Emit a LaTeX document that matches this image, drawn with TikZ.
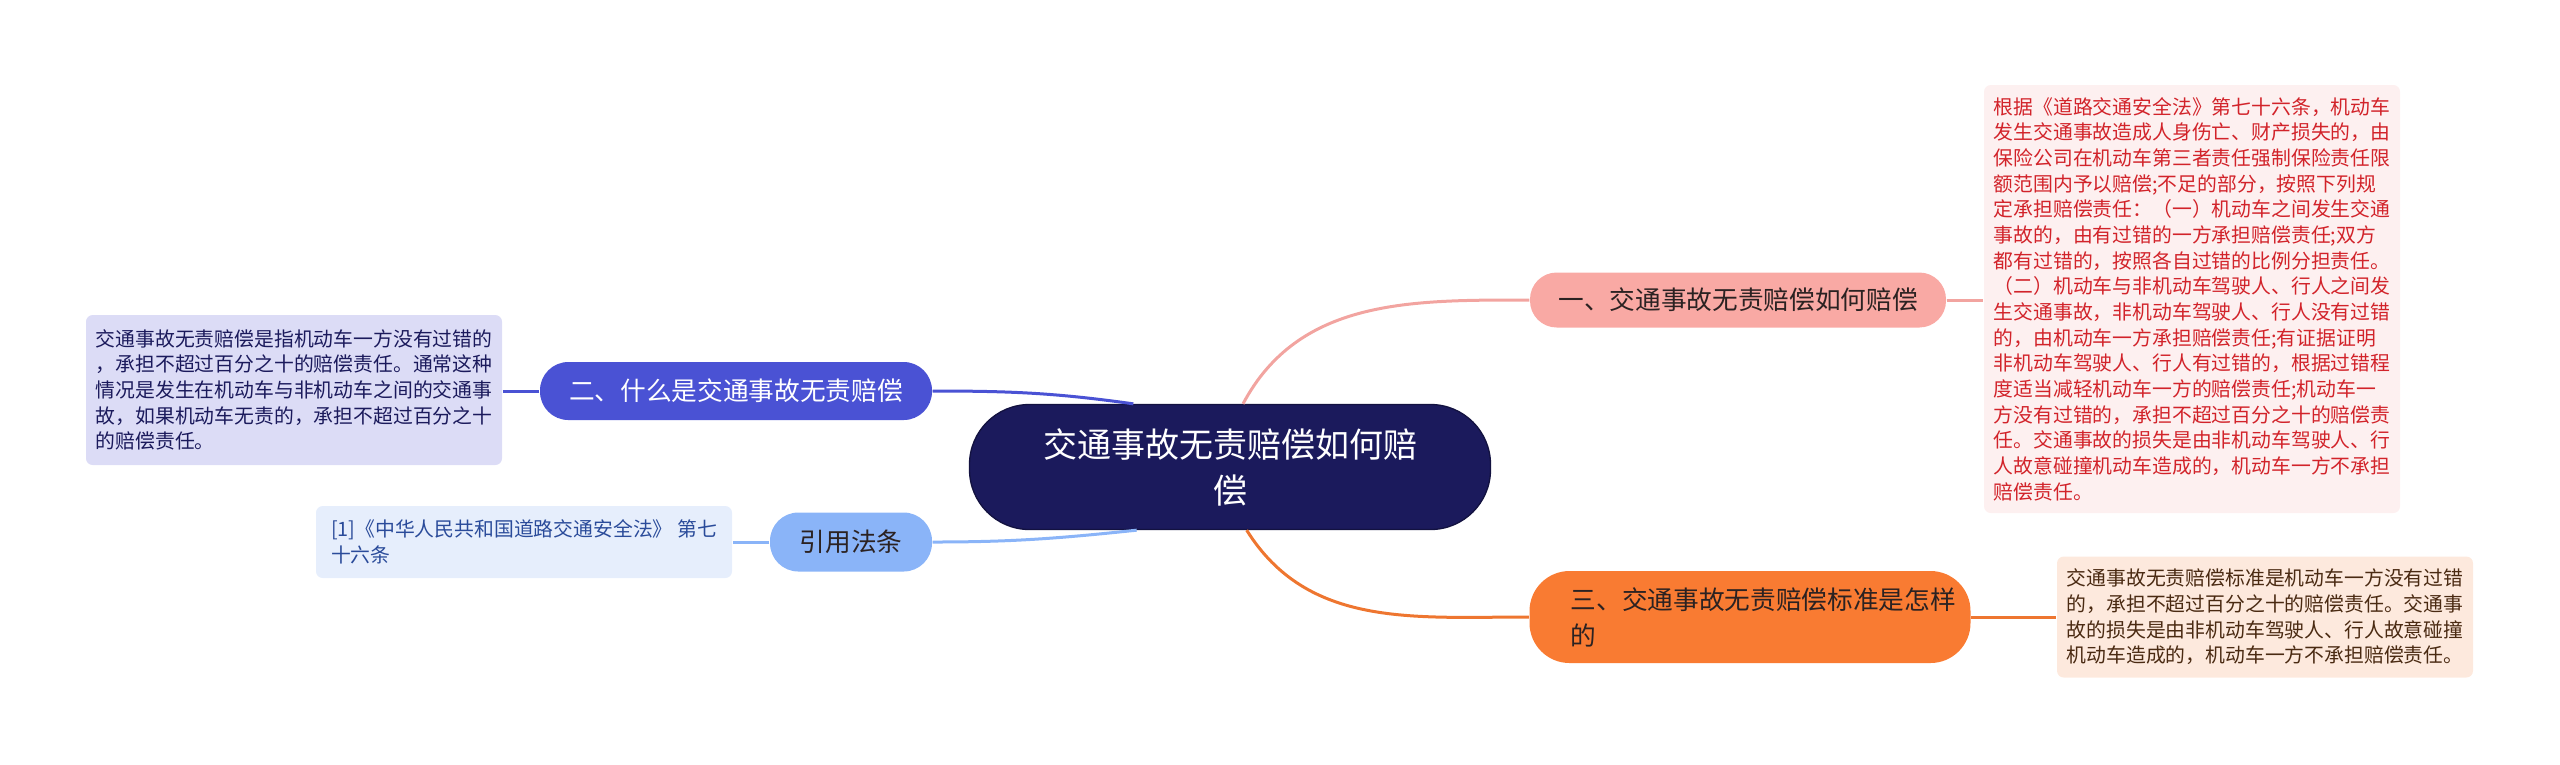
\documentclass[tikz,border=0pt]{standalone}
\usepackage{fontspec}
\setmainfont{Noto Sans CJK SC}
\usetikzlibrary{positioning,calc}
\usepackage{xcolor}

\definecolor{rootnavy}{HTML}{1B1A5C}
\definecolor{pinkmain}{HTML}{F9A9A4}
\definecolor{pinkline}{HTML}{F2A4A0}
\definecolor{bluemain}{HTML}{4A52D4}
\definecolor{skymain}{HTML}{8AB4F8}
\definecolor{orangemain}{HTML}{F97B32}
\definecolor{orangeline}{HTML}{EE7630}
\definecolor{redleaf}{HTML}{FDF0F0}
\definecolor{redtext}{HTML}{D2232A}
\definecolor{lilacleaf}{HTML}{DCDCF6}
\definecolor{skyleaf}{HTML}{E6EEFC}
\definecolor{skytext}{HTML}{2A4B9A}
\definecolor{peachleaf}{HTML}{FDE9DD}
\definecolor{browntext}{HTML}{4A2A12}
\definecolor{darktext}{HTML}{2B2222}

\begin{document}
\begin{tikzpicture}[x=0.3pt, y=-0.3pt,
  root/.style={fill=rootnavy, draw=rootnavy!70!black, text=white, rounded corners=18pt,
    minimum width=156.3pt, minimum height=37.5pt, inner sep=0pt, align=center,
    font=\fontsize{10.2pt}{13.8pt}\selectfont},
  branch/.style={inner sep=0pt, font=\fontsize{7.7pt}{10.8pt}\selectfont},
  leaf/.style={rounded corners=2pt, inner sep=0pt, align=left,
    minimum width=124.8pt, font=\fontsize{5.95pt}{7.7pt}\selectfont},
  link/.style={line width=0.9pt}]
  \useasboundingbox (0,0) rectangle (2560,764);

  % Root
  \node[root] (root) at (1230,467) {交通事故无责赔偿如何赔\\偿};

  % Branches
  \node[branch, fill=pinkmain, text=darktext, rounded corners=8pt,
    minimum width=124.8pt, minimum height=16.5pt] (one) at (1738,300)
    {一、交通事故无责赔偿如何赔偿};
  \node[branch, fill=bluemain, text=white, rounded corners=8.5pt,
    minimum width=117.6pt, minimum height=17.4pt] (two) at (736,391)
    {二、什么是交通事故无责赔偿};
  \node[branch, fill=skymain, text=darktext, rounded corners=8.5pt,
    minimum width=48.6pt, minimum height=17.7pt] (cite) at (851,542)
    {引用法条};
  \node[branch, fill=orangemain, text=darktext, rounded corners=12pt, align=left,
    minimum width=132.3pt, minimum height=27.6pt] (three) at (1750,617)
    {\hspace*{8pt}三、交通事故无责赔偿标准是怎样\\\hspace*{8pt}的};

  % Leaves
  \node[leaf, fill=redleaf, text=redtext, minimum height=128.4pt] (oneleaf) at (2192,299)
    {根据《道路交通安全法》第七十六条，机动车\\
     发生交通事故造成人身伤亡、财产损失的，由\\
     保险公司在机动车第三者责任强制保险责任限\\
     额范围内予以赔偿;不足的部分，按照下列规\\
     定承担赔偿责任：（一）机动车之间发生交通\\
     事故的，由有过错的一方承担赔偿责任;双方\\
     都有过错的，按照各自过错的比例分担责任。\\
     （二）机动车与非机动车驾驶人、行人之间发\\
     生交通事故，非机动车驾驶人、行人没有过错\\
     的，由机动车一方承担赔偿责任;有证据证明\\
     非机动车驾驶人、行人有过错的，根据过错程\\
     度适当减轻机动车一方的赔偿责任;机动车一\\
     方没有过错的，承担不超过百分之十的赔偿责\\
     任。交通事故的损失是由非机动车驾驶人、行\\
     人故意碰撞机动车造成的，机动车一方不承担\\
     赔偿责任。};
  \node[leaf, fill=lilacleaf, text=rootnavy, minimum height=45pt] (twoleaf) at (294,390)
    {交通事故无责赔偿是指机动车一方没有过错的\\
     ，承担不超过百分之十的赔偿责任。通常这种\\
     情况是发生在机动车与非机动车之间的交通事\\
     故，如果机动车无责的，承担不超过百分之十\\
     的赔偿责任。};
  \node[leaf, fill=skyleaf, text=skytext, minimum height=21.6pt] (citeleaf) at (524,542)
    {[1]《中华人民共和国道路交通安全法》 第七\\
     十六条};
  \node[leaf, fill=peachleaf, text=browntext, minimum height=36.3pt] (threeleaf) at (2265,617)
    {交通事故无责赔偿标准是机动车一方没有过错\\
     的，承担不超过百分之十的赔偿责任。交通事\\
     故的损失是由非机动车驾驶人、行人故意碰撞\\
     机动车造成的，机动车一方不承担赔偿责任。};

  % Root to branches
  \draw[link, pinkline] ([xshift=3.9pt]root.north) to[out=62, in=180] (one.west);
  \draw[link, orangeline] ([xshift=5pt]root.south) to[out=-58, in=180] (three.west);
  \draw[link, bluemain] ([xshift=-29pt]root.north) to[out=172, in=0] (two.east);
  \draw[link, skymain] ([xshift=-28pt]root.south) to[out=-174, in=0] (cite.east);

  % Branches to leaves
  \draw[link, pinkline] (one.east) -- (oneleaf.west |- one.east);
  \draw[link, orangeline] (three.east) -- (threeleaf.west |- three.east);
  \draw[link, bluemain] (two.west) -- (twoleaf.east |- two.west);
  \draw[link, skymain] (cite.west) -- (citeleaf.east |- cite.west);
\end{tikzpicture}
\end{document}
